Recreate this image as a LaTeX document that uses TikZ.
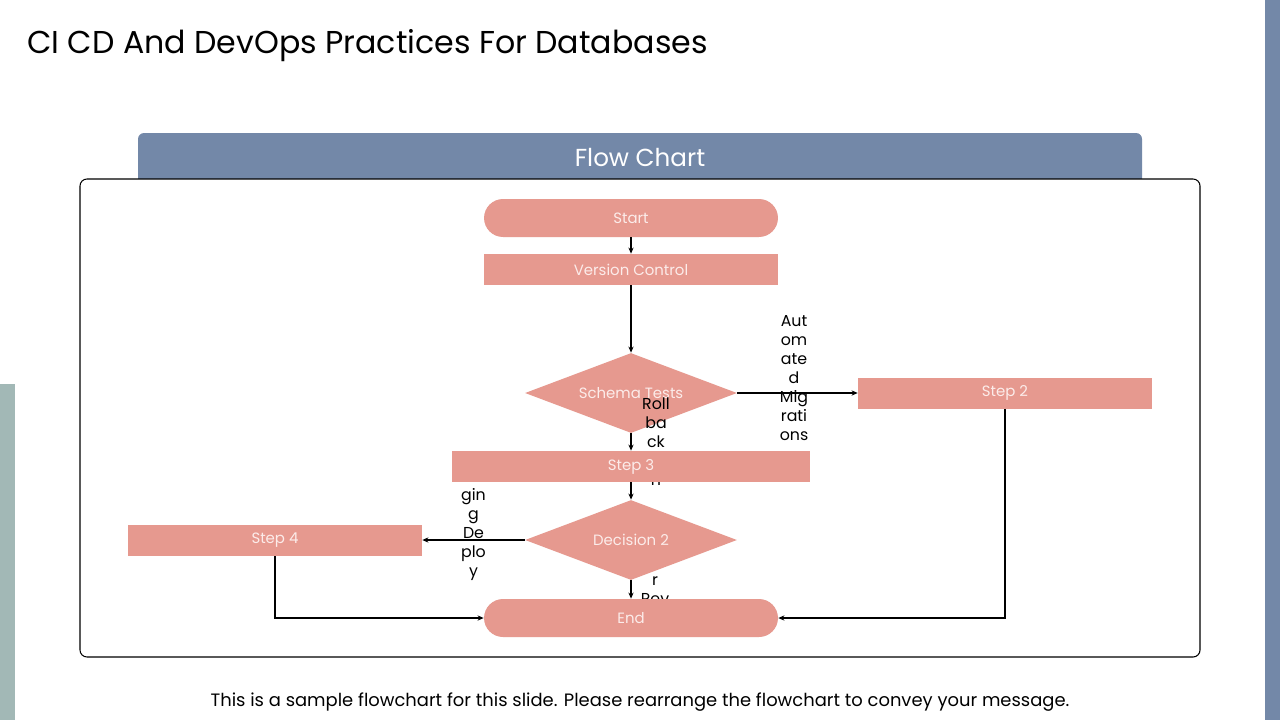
\documentclass[tikz,border=0pt]{standalone}
\usepackage{fontspec}
\setmainfont{Poppins}
\usetikzlibrary{arrows.meta,positioning,shapes.geometric}
\definecolor{salmon}{HTML}{E6998F}
\definecolor{slate}{HTML}{7388A8}
\definecolor{sage}{HTML}{A2B8B6}
\definecolor{paletext}{HTML}{FCECEA}
\pgfdeclarelayer{back}
\pgfdeclarelayer{early}
\pgfdeclarelayer{lines}
\pgfsetlayers{back,early,lines,main}
\tikzset{
  stepbox/.style={rectangle, fill=salmon, minimum width=5.88cm, minimum height=0.62cm,
                  inner sep=0pt, text=paletext, font=\fontsize{8.5}{10}\selectfont},
  termbox/.style={stepbox, rounded corners=0.38cm, minimum height=0.76cm},
  decbox/.style={diamond, fill=salmon, minimum width=4.24cm, minimum height=1.6cm,
                 aspect=2.65, inner sep=0pt, text=paletext, font=\fontsize{8.5}{10}\selectfont},
  arr/.style={-{Stealth[length=3.5pt, width=3pt]}, line width=0.6pt, draw=black},
  lbl/.style={align=center, inner sep=0pt, font=\fontsize{9}{10.8}\selectfont},
}
\begin{document}
\begin{tikzpicture}[x=0.02cm, y=-0.02cm]
  \useasboundingbox (0,0) rectangle (1280,720);
  % side bars
  \fill[slate] (1265,0) rectangle (1280,720);
  \fill[sage] (0,384) rectangle (15,720);
  % title
  \node[anchor=west, inner sep=0pt, font=\fontsize{18}{21}\selectfont] (title) at (27,46)
    {CI CD And DevOps Practices For Databases};
  % header tab and frame
  \begin{pgfonlayer}{back}
    \fill[slate, rounded corners=0.12cm] (138,190) rectangle (1142,133);
    \draw[line width=0.6pt, fill=white, rounded corners=0.14cm] (80,179) rectangle (1200,657);
  \end{pgfonlayer}
  \node[text=white, font=\fontsize{14}{16}\selectfont] (head) at (640,158) {Flow Chart};
  % flow nodes (upper ones sit below the connector labels)
  \begin{pgfonlayer}{early}
    \node[termbox] (start) at (631,218) {Start};
    \node[stepbox] (vc) at (631,269.5) {Version Control};
    \node[decbox] (schema) at (631,393) {Schema Tests};
    \node[stepbox] (step2) at (1005,393) {Step 2};
  \end{pgfonlayer}
  \node[stepbox, minimum width=7.16cm] (step3) at (631,466.5) {Step 3};
  \node[decbox] (dec2) at (631,540) {Decision 2};
  \node[stepbox] (step4) at (275,540) {Step 4};
  \node[termbox] (end) at (631,618) {End};
  % connectors
  \begin{pgfonlayer}{lines}
    \draw[arr] (start) -- (vc);
    \draw[arr] (vc) -- (schema);
    \draw[arr] (schema) -- node[lbl, xshift=-0.07cm, yshift=0.3cm]
      {Aut\\om\\ate\\d\\Mig\\rati\\ons} (step2);
    \draw[arr] (schema) -- node[lbl, xshift=0.5cm] {Roll\\ba\\ck\\Pla\\n} (step3);
    \draw[arr] (step3) -- (dec2);
    \draw[arr] (dec2) -- node[lbl, yshift=0.29cm] {Sta\\gin\\g\\De\\plo\\y} (step4);
    \draw[arr] (dec2) -- node[lbl, xshift=0.48cm] {Pee\\r\\Rev\\iew} (end);
    \draw[arr] (step4) |- (end);
    \draw[arr] (step2) |- (end);
  \end{pgfonlayer}
  % footer
  \node[font=\fontsize{10.2}{12}\selectfont] (note) at (640,702)
    {This is a sample flowchart for this slide. Please rearrange the flowchart to convey your message.};
\end{tikzpicture}
\end{document}
